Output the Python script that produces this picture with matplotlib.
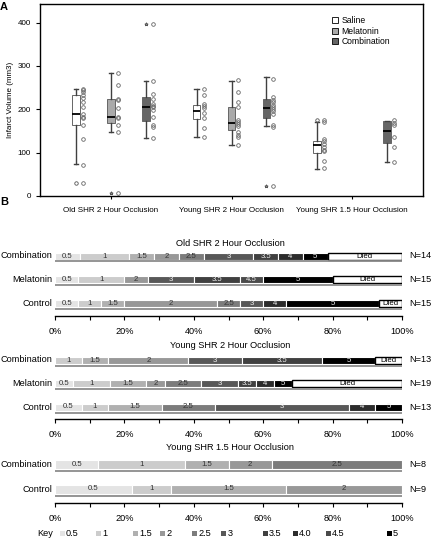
import numpy as np
import matplotlib.pyplot as plt
from matplotlib.lines import Line2D
from matplotlib.patches import Rectangle

plt.rcParams['font.family'] = ['Liberation Sans', 'DejaVu Sans']

# ---------------- data: panel A (infarct volume, mm3) ----------------
groups = ['Old SHR 2 Hour Occlusion', 'Young SHR 2 Hour Occlusion', 'Young SHR 1.5 Hour Occlusion']
treatments = ['Saline', 'Melatonin', 'Combination']

box_group = [0, 0, 0, 1, 1, 1, 2, 2]
box_treat = ['Saline', 'Melatonin', 'Combination',
             'Saline', 'Melatonin', 'Combination',
             'Saline', 'Combination']
box_q1 = [164, 169, 173, 178, 152, 180, 100, 122]
box_med = [189, 182, 205, 195, 168, 202, 118, 151]
box_q3 = [232, 223, 229, 209, 206, 223, 127, 172]
box_lo = [74, 148, 133, 135, 118, 162, 62, 79]
box_hi = [246, 284, 266, 246, 266, 274, 170, 172]
box_fliers = [[31], [7], [397], [], [], [23], [175], []]
flier_mark = ['o', '*', '*', 'o', 'o', '*', 'o', 'o']

points = [
    [246, 244, 240, 232, 225, 217, 205, 189, 183, 179, 163, 132, 72, 31],
    [283, 257, 223, 221, 204, 182, 179, 163, 148, 7],
    [397, 266, 236, 223, 212, 208, 205, 199, 183, 164, 160, 133],
    [246, 233, 212, 208, 204, 191, 179, 158, 135],
    [268, 241, 218, 206, 176, 171, 166, 162, 148, 141, 135, 118],
    [270, 228, 222, 216, 210, 205, 200, 195, 189, 164, 160, 23],
    [175, 170, 131, 127, 121, 113, 106, 103, 80, 65],
    [175, 169, 163, 137, 112, 79],
]

# ---------------- data: panel B (neuro scores, counts per score) ----------------
old_rows = ['Combination', 'Melatonin', 'Control']
old_scores = [['0.5', '1', '1.5', '2', '2.5', '3', '3.5', '4', '5', 'Died'],
              ['0.5', '1', '2', '3', '3.5', '4.5', '5', 'Died'],
              ['0.5', '1', '1.5', '2', '2.5', '3', '4', '5', 'Died']]
old_counts = [[1, 2, 1, 1, 1, 2, 1, 1, 1, 3],
              [1, 2, 1, 2, 2, 1, 3, 3],
              [1, 1, 1, 4, 1, 1, 1, 4, 1]]

young2_rows = ['Combination', 'Melatonin', 'Control']
young2_scores = [['1', '1.5', '2', '3', '3.5', '5', 'Died'],
                 ['0.5', '1', '1.5', '2', '2.5', '3', '3.5', '4', '5', 'Died'],
                 ['0.5', '1', '1.5', '2.5', '3', '4', '5']]
young2_counts = [[1, 1, 3, 2, 3, 2, 1],
                 [1, 2, 2, 1, 2, 2, 1, 1, 1, 6],
                 [1, 1, 2, 2, 5, 1, 1]]

young15_rows = ['Combination', 'Control']
young15_scores = [['0.5', '1', '1.5', '2', '2.5'],
                  ['0.5', '1', '1.5', '2']]
young15_counts = [[1, 2, 1, 1, 3],
                  [2, 1, 3, 3]]

key_labels = ['0.5', '1', '1.5', '2', '2.5', '3', '3.5', '4.0', '4.5', '5']

score_color = {'0.5': '#e4e4e4', '1': '#cccccc', '1.5': '#b0b0b0', '2': '#989898',
               '2.5': '#7c7c7c', '3': '#585858', '3.5': '#404040', '4': '#2c2c2c',
               '4.0': '#2c2c2c', '4.5': '#4a4a4a', '5': '#000000', 'Died': '#ffffff'}

W, H = 433, 540
fig = plt.figure(figsize=(W / 100, H / 100), dpi=100)


def px_axes(l, t, r, b):
    return fig.add_axes([l / W, 1 - b / H, (r - l) / W, (b - t) / H])


def px_text(x, y, s, **kw):
    fig.text(x / W, 1 - y / H, s, **kw)


# ---------------- panel A ----------------
axA = px_axes(40, 4, 423, 196)
fill = {'Saline': 'white', 'Melatonin': '#aaaaaa', 'Combination': '#666666'}
offset = {'Saline': -0.29, 'Melatonin': 0.0, 'Combination': 0.29}

stats = []
pos = []
for i in range(len(box_med)):
    stats.append(dict(med=box_med[i], q1=box_q1[i], q3=box_q3[i],
                      whislo=box_lo[i], whishi=box_hi[i], fliers=box_fliers[i]))
    pos.append(box_group[i] + 1 + offset[box_treat[i]])

res = axA.bxp(stats, positions=pos, widths=0.06, patch_artist=True,
              showfliers=True, manage_ticks=False,
              medianprops=dict(color='black', lw=1.3),
              whiskerprops=dict(color='#404040', lw=1.0),
              capprops=dict(color='#404040', lw=1.0),
              boxprops=dict(edgecolor='#666666', lw=0.7),
              flierprops=dict(marker='o', ms=2.5, mfc='none', mec='#555555', mew=0.6))
for i, b in enumerate(res['boxes']):
    b.set_facecolor(fill[box_treat[i]])
for i, f in enumerate(res['fliers']):
    f.set_marker(flier_mark[i])
for c in res['caps']:
    x0, x1 = c.get_xdata()
    m = (x0 + x1) / 2
    c.set_xdata([m - 0.02, m + 0.02])

for i, p in enumerate(points):
    axA.plot([pos[i] + 0.058] * len(p), p, 'o', ms=2.6, mfc='none',
             mec='#666666', mew=0.6)

axA.set_xlim(0.411, 3.589)
axA.set_ylim(0, 443)
axA.set_xticks([1, 2, 3])
axA.set_xticklabels(groups, fontsize=5.8)
axA.set_yticks([0, 100, 200, 300, 400])
axA.tick_params(axis='y', labelsize=5.8, length=3, width=0.8)
axA.tick_params(axis='x', length=2, width=0.8, pad=6)
axA.set_ylabel('Infarct Volume (mm3)', fontsize=5.8, labelpad=3)
for s in axA.spines.values():
    s.set_linewidth(1.0)

handles = [Line2D([], [], ls='none', marker='s', ms=4.2, mfc=fill[t], mec='black', mew=0.6)
           for t in treatments]
axA.legend(handles, treatments, loc='upper left', bbox_to_anchor=(0.762, 0.935),
           frameon=False, fontsize=6.2, borderaxespad=0, borderpad=0,
           handletextpad=0.3, handlelength=0.8, labelspacing=0.15)

px_text(0, 7, 'A', fontsize=8, fontweight='bold', va='center')
px_text(0, 202, 'B', fontsize=8, fontweight='bold', va='center')


# ---------------- panel B ----------------
def draw_panel(top, bottom, centers_px, title_y, title, rows, scores, counts, h_px):
    ax = px_axes(55, top, 402, bottom)
    n = len(rows)
    ys = np.arange(n)[::-1]  # first row on top
    spacing = (centers_px[-1] - centers_px[0]) / (n - 1)
    lo = -(bottom - centers_px[-1]) / spacing
    hi = (n - 1) + (centers_px[0] - top) / spacing
    ax.set_ylim(lo, hi)
    ax.set_xlim(0, 1)
    h = h_px / spacing
    for y, name, sc, ct in zip(ys, rows, scores, counts):
        ct = np.array(ct, dtype=float)
        frac = ct / ct.sum()
        left = np.concatenate([[0], np.cumsum(frac)[:-1]])
        ax.plot([0, 1], [y - h / 2 - 2.0 / spacing] * 2, color='#8c8c8c', lw=1.3,
                solid_capstyle='butt')
        for s, f, l in zip(sc, frac, left):
            if s == 'Died':
                ax.barh(y, f, left=l, height=h, color='white', edgecolor='black', lw=1.0)
                tc = 'black'
            else:
                ax.barh(y, f, left=l, height=h, color=score_color[s],
                        edgecolor='white', lw=0.8)
                tc = '#f0f0f0' if float(s) >= 3 else '#333333'
            ax.text(l + f / 2, y, s, ha='center', va='center', fontsize=5.6, color=tc)
        ax.text(-0.008, y, name, ha='right', va='center', fontsize=6.6)
        ax.text(1.02, y, 'N=%d' % int(ct.sum()), ha='left', va='center', fontsize=6.6)
    for s in ['left', 'right', 'top']:
        ax.spines[s].set_visible(False)
    ax.spines['bottom'].set_linewidth(1.0)
    ax.set_yticks([])
    ax.set_xticks(np.arange(0, 1.01, 0.2))
    ax.set_xticklabels(['%d%%' % v for v in range(0, 101, 20)], fontsize=6.6)
    ax.set_xticks(np.arange(0.1, 1.0, 0.2), minor=True)
    ax.tick_params(axis='x', which='both', length=3, width=0.8, pad=5)
    px_text(230, title_y, title, fontsize=6.6, ha='center', va='center')


draw_panel(248, 316, [256, 279.7, 303.7], 243, 'Old SHR 2 Hour Occlusion',
           old_rows, old_scores, old_counts, 7)
draw_panel(352, 419.3, [360, 383.7, 407], 345, 'Young SHR 2 Hour Occlusion',
           young2_rows, young2_scores, young2_counts, 7)
draw_panel(455, 503, [464.5, 489], 448, 'Young SHR 1.5 Hour Occlusion',
           young15_rows, young15_scores, young15_counts, 9)

# key row
key_x = [62, 98, 135, 162, 194, 224, 265, 295, 328, 389]
px_text(45, 533, 'Key', fontsize=6.6, ha='center', va='center')
for x, lab in zip(key_x, key_labels):
    fig.patches.append(Rectangle(((x - 2.5) / W, 1 - 535.5 / H), 5 / W, 5 / H,
                                 transform=fig.transFigure, facecolor=score_color[lab],
                                 edgecolor='none'))
    px_text(x + 4, 533, lab, fontsize=6.6, ha='left', va='center')

fig.savefig('out.png', dpi=100)
